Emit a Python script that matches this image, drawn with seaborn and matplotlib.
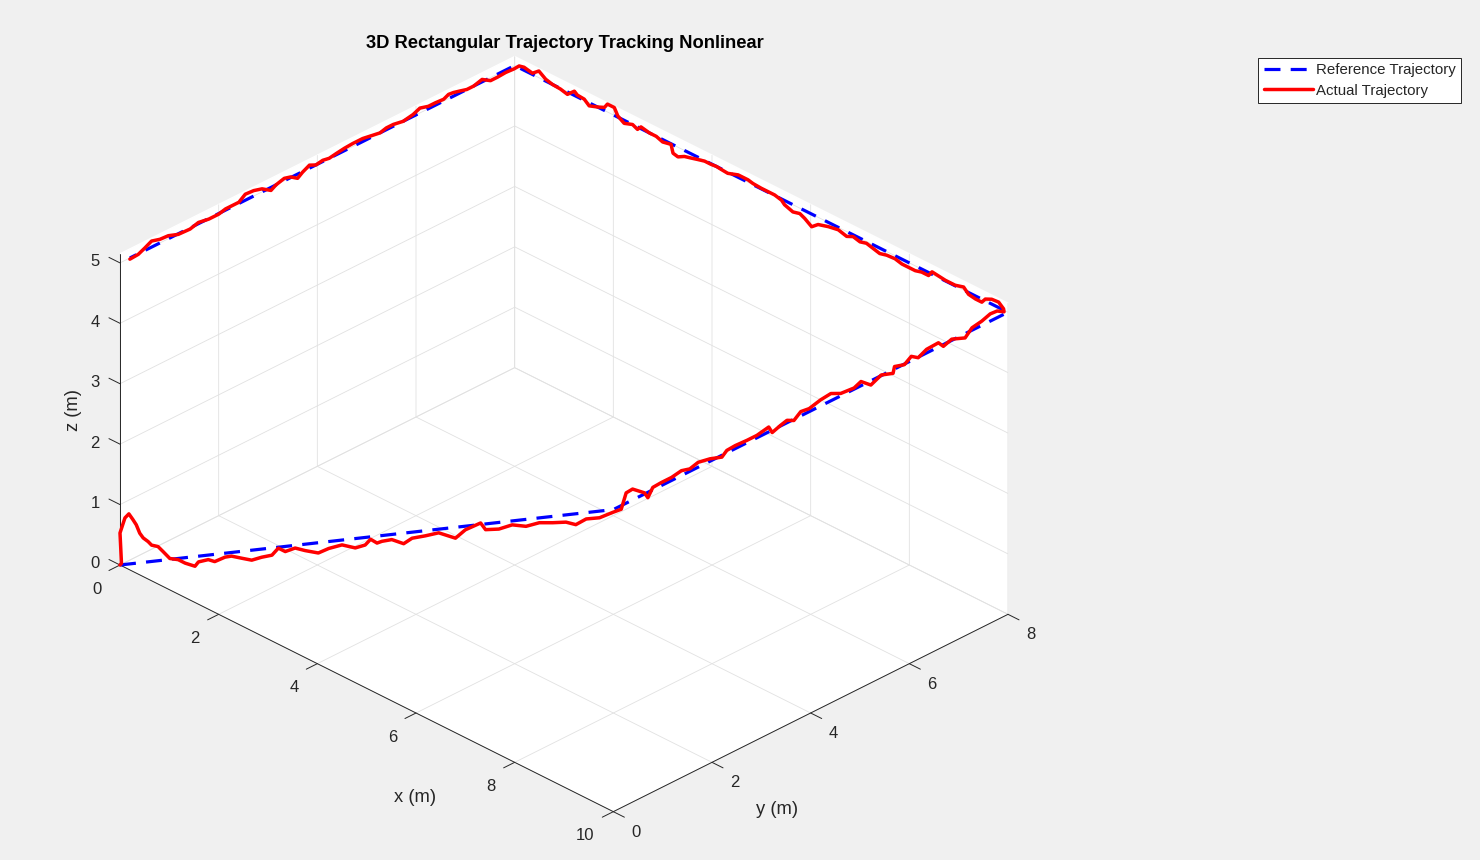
import numpy as np
import matplotlib
matplotlib.use('Agg')
import matplotlib.pyplot as plt
import seaborn as sns
from mpl_toolkits.mplot3d import proj3d

# reference trajectory corners (m)
ref_x = [0, 10, 10, 0, 0]
ref_y = [0, 0, 8, 8, 0.2]
ref_z = [0, 5, 5, 5, 5]

# actual trajectory, read off the picture leg by leg
# leg 1: climb from the origin, lies in y = 0
leg1_y = 0.0
leg1_x = [0.0, 0.03, 0.0, 0.10, 0.18, 0.26, 0.33, 0.40, 0.47, 0.57, 0.64, 0.77, 0.87,
          1.01, 1.18, 1.32, 1.52, 1.59, 1.79, 1.92, 2.13, 2.26, 2.47, 2.67, 2.87, 3.08,
          3.21, 3.35, 3.55, 3.75, 4.02, 4.23, 4.50, 4.77, 4.97, 5.08, 5.21, 5.31, 5.51,
          5.75, 5.92, 6.19, 6.46, 6.80, 7.00, 7.31, 7.41, 7.68, 7.95, 8.23, 8.50, 8.77,
          9.04, 9.24, 9.45, 9.72, 9.99]
leg1_z = [0.0, 0.04, 0.53, 0.82, 0.92, 0.86, 0.80, 0.69, 0.64, 0.62, 0.59, 0.62, 0.58,
          0.52, 0.57, 0.57, 0.60, 0.70, 0.82, 0.84, 1.00, 1.07, 1.12, 1.17, 1.30, 1.42,
          1.59, 1.59, 1.73, 1.77, 1.84, 2.00, 2.17, 2.23, 2.36, 2.50, 2.49, 2.56, 2.67,
          2.70, 2.86, 3.01, 3.17, 3.22, 3.44, 3.68, 3.61, 3.73, 3.91, 4.00, 4.17, 4.28,
          4.40, 4.44, 4.62, 4.75, 4.95]
# leg 2: along y at x = 10
leg2_x = 10.0
leg2_y = [0.16, 0.26, 0.39, 0.63, 0.70, 0.80, 0.97, 1.18, 1.38, 1.55, 1.72, 1.96, 2.20,
          2.30, 2.47, 2.71, 2.91, 3.15, 3.22, 3.39, 3.52, 3.66, 3.80, 3.97, 4.20, 4.41,
          4.61, 4.88, 5.02, 5.22, 5.43, 5.67, 5.70, 5.90, 6.04, 6.18, 6.35, 6.59, 6.69,
          6.86, 7.13, 7.27, 7.47, 7.64, 7.78, 7.92]
leg2_z = [4.94, 5.17, 5.18, 5.02, 4.91, 5.04, 5.05, 5.05, 5.08, 5.04, 5.08, 5.04, 4.97,
          5.04, 5.05, 5.04, 5.04, 5.08, 4.96, 5.01, 5.04, 4.98, 5.07, 5.05, 5.10, 5.12,
          5.04, 5.02, 5.07, 4.93, 5.01, 4.94, 5.04, 4.99, 5.07, 4.99, 5.06, 5.07, 4.97,
          5.02, 4.93, 5.04, 5.07, 5.12, 5.11, 5.04]
# leg 3: back along x at y = 8
leg3_y = 8.0
leg3_x = [9.91, 9.81, 9.67, 9.54, 9.47, 9.34, 9.20, 9.10, 8.93, 8.73, 8.46, 8.39, 8.25,
          8.12, 7.98, 7.85, 7.71, 7.54, 7.40, 7.27, 7.13, 7.00, 6.86, 6.73, 6.56, 6.36,
          6.15, 6.02, 5.88, 5.78, 5.64, 5.47, 5.41, 5.27, 5.14, 5.00, 4.83, 4.73, 4.53,
          4.32, 4.19, 4.09, 3.98, 3.85, 3.71, 3.58, 3.44, 3.31, 3.21, 3.17, 3.00, 2.87,
          2.73, 2.56, 2.49, 2.39, 2.22, 2.09, 2.02, 1.88, 1.82, 1.68, 1.51, 1.41, 1.27,
          1.21, 1.07, 0.93, 0.77, 0.63, 0.49, 0.36, 0.19, 0.09]
leg3_z = [5.02, 5.09, 5.08, 5.03, 4.95, 4.95, 4.97, 5.05, 5.01, 5.01, 5.04, 4.95, 4.95,
          4.92, 4.92, 4.92, 4.95, 4.94, 4.91, 4.94, 4.97, 4.94, 4.97, 4.92, 4.96, 4.93,
          4.88, 4.79, 4.87, 4.91, 4.88, 4.93, 4.98, 5.01, 5.01, 5.01, 5.02, 5.04, 5.04,
          4.98, 4.99, 5.00, 4.99, 4.99, 4.96, 4.93, 4.90, 4.84, 4.86, 4.99, 4.96, 5.00,
          5.00, 5.03, 4.96, 5.00, 4.95, 5.02, 5.13, 5.13, 5.05, 5.00, 4.95, 5.02, 5.03,
          5.07, 4.96, 4.99, 5.00, 5.03, 5.11, 5.02, 5.05, 5.03]
# leg 4: back along y at x = 0
leg4_x = 0.0
leg4_y = [7.99, 7.82, 7.65, 7.51, 7.34, 7.17, 7.03, 6.90, 6.76, 6.66, 6.56, 6.39, 6.25,
          6.08, 5.94, 5.74, 5.54, 5.40, 5.27, 5.06, 4.92, 4.72, 4.55, 4.38, 4.24, 4.11,
          3.97, 3.84, 3.70, 3.60, 3.46, 3.33, 3.16, 3.06, 2.88, 2.71, 2.54, 2.41, 2.27,
          2.14, 2.00, 1.80, 1.59, 1.42, 1.18, 0.98, 0.81, 0.64, 0.50, 0.37, 0.20]
leg4_z = [4.95, 4.96, 4.95, 4.95, 5.04, 5.00, 5.00, 5.03, 5.06, 5.07, 5.03, 5.04, 5.04,
          5.08, 5.03, 5.00, 5.03, 5.03, 5.00, 5.03, 5.05, 5.05, 5.04, 5.02, 5.00, 5.02,
          5.00, 5.05, 4.99, 4.93, 5.01, 5.04, 5.00, 4.95, 5.05, 5.09, 5.10, 5.02, 5.02,
          5.02, 4.99, 4.99, 5.02, 4.98, 4.99, 5.05, 5.06, 5.10, 5.04, 4.99, 4.98]

x_ticks = [0, 2, 4, 6, 8, 10]
y_ticks = [0, 2, 4, 6, 8]
z_ticks = [0, 1, 2, 3, 4, 5]
x_lim = (0, 10)
y_lim = (0, 8)
z_lim = (0, 5.15)

act_x = np.concatenate([leg1_x, np.full(len(leg2_y), leg2_x), leg3_x, np.full(len(leg4_y), leg4_x)])
act_y = np.concatenate([np.full(len(leg1_x), leg1_y), leg2_y, np.full(len(leg3_x), leg3_y), leg4_y])
act_z = np.concatenate([leg1_z, leg2_z, leg3_z, leg4_z])

# style
sns.set_theme(style='white')
plt.rcParams['font.family'] = ['Liberation Sans', 'DejaVu Sans']
plt.rcParams['grid.color'] = '#e1e1e1'
plt.rcParams['grid.linewidth'] = 0.6
plt.rcParams['axes.edgecolor'] = '#262626'
plt.rcParams['axes.linewidth'] = 0.7
plt.rcParams['xtick.color'] = '#262626'
plt.rcParams['ytick.color'] = '#262626'
plt.rcParams['xtick.major.width'] = 0.7
plt.rcParams['ytick.major.width'] = 0.7
text_col = '#262626'

W, H = 1480, 860
fig = plt.figure(figsize=(W / 100, H / 100), dpi=100, facecolor='#f0f0f0')
ax = fig.add_axes([0.1, 0.1, 0.6, 0.8], projection='3d', proj_type='ortho',
                  computed_zorder=False)
ax.patch.set_alpha(0)

ax.plot(ref_x, ref_y, ref_z, color='#0000ff', lw=2.3, linestyle=(0, (5, 3.2)),
        label='Reference Trajectory', zorder=3)
ax.plot(act_x, act_y, act_z, color='#ff0000', lw=2.5, label='Actual Trajectory', zorder=4)

ax.set_xlim(*x_lim)
ax.set_ylim(*y_lim)
ax.set_zlim(*z_lim)
ax.set_box_aspect((x_lim[1] - x_lim[0], y_lim[1] - y_lim[0], z_lim[1] - z_lim[0]))
ax.view_init(elev=30, azim=-45)
ax.set_xticks(x_ticks)
ax.set_yticks(y_ticks)
ax.set_zticks(z_ticks)
ax.tick_params(axis='both', labelsize=12, labelcolor=text_col)
ax.tick_params(axis='z', labelsize=12, labelcolor=text_col)

# z axis on the left corner, ticks pointing out along -x like MATLAB
ax.zaxis.set_ticks_position('lower')
ax.zaxis._get_tickdir = lambda *args, **kwargs: 0

for axis in (ax.xaxis, ax.yaxis, ax.zaxis):
    axis.set_pane_color((1, 1, 1, 1))
    axis.pane.set_edgecolor('white')
    axis._axinfo['axisline']['color'] = text_col
ax.xaxis._axinfo['tick'].update(inward_factor=0.35, outward_factor=0.0)
ax.yaxis._axinfo['tick'].update(inward_factor=0.28, outward_factor=0.0)
ax.zaxis._axinfo['tick'].update(inward_factor=0.0, outward_factor=0.28)


def to_px(x, y, z):
    px, py, _ = proj3d.proj_transform(x, y, z, ax.get_proj())
    return np.asarray(ax.transData.transform((px, py)))


# place the box so its corners land where the reference has them
for _ in range(2):
    fig.canvas.draw()
    p0 = to_px(0, 0, 0)
    p1 = to_px(10, 8, 0)
    k = (1008 - 120) / (p1[0] - p0[0])
    bb = ax.get_position().transformed(fig.transFigure)
    cx, cy = (bb.x0 + bb.x1) / 2, (bb.y0 + bb.y1) / 2
    ncx = 120 - k * (p0[0] - cx)
    ncy = (H - 565) - k * (p0[1] - cy)
    nw, nh = bb.width * k, bb.height * k
    ax.set_position([(ncx - nw / 2) / W, (ncy - nh / 2) / H, nw / W, nh / H])

# tick label alignment as in MATLAB
fig.canvas.draw()
for lab in ax.xaxis.get_ticklabels():
    lab.set(ha='right', va='center')
for lab in ax.yaxis.get_ticklabels():
    lab.set(ha='left', va='center')
for lab in ax.zaxis.get_ticklabels():
    lab.set(ha='right', va='center')


def label_anchor(axis, loc):
    for tick in axis.get_major_ticks():
        if abs(tick.get_loc() - loc) < 1e-9:
            return np.asarray(ax.transData.transform(tick.label1.get_position()))


def fit_pad(axis, loc, target):
    found = []
    for p in (2.0, 12.0):
        axis.set_tick_params(pad=p)
        fig.canvas.draw()
        found.append(label_anchor(axis, loc))
    step = (found[1] - found[0]) / 10.0
    axis.set_tick_params(pad=2.0 + np.dot(step, target - found[0]) / np.dot(step, step))


# tick label offsets (pixels, y up) from the axis line
fit_pad(ax.xaxis, 4, to_px(4, 0, 0) + np.array([-23, -21]))
fit_pad(ax.yaxis, 4, to_px(10, 4, 0) + np.array([19, -20]))
fit_pad(ax.zaxis, 3, to_px(0, 0, 3) + np.array([-20, 6]))

fig.text(415 / W, 1 - 798 / H, 'x (m)', ha='center', va='center', fontsize=13.2, color=text_col)
fig.text(777 / W, 1 - 810 / H, 'y (m)', ha='center', va='center', fontsize=13.2, color=text_col)
fig.text(73 / W, 1 - 410 / H, 'z (m)', ha='center', va='center', fontsize=13.2,
         color=text_col, rotation=90)
fig.suptitle('3D Rectangular Trajectory Tracking Nonlinear', x=565 / W, y=1 - 43 / H,
             va='center', fontsize=13.2, fontweight='bold', color='black')

handles, labels = ax.get_legend_handles_labels()
leg = fig.legend(handles, labels, loc='upper right', bbox_to_anchor=(1461 / W, 1 - 58 / H),
                 frameon=True, fancybox=False, edgecolor=text_col, framealpha=1,
                 facecolor='white', fontsize=10.8, handlelength=3.3, handletextpad=0.2,
                 borderpad=0.35, labelspacing=0.42, borderaxespad=0)
leg.get_frame().set_linewidth(0.7)

fig.savefig('out.png', dpi=100, facecolor=fig.get_facecolor())
